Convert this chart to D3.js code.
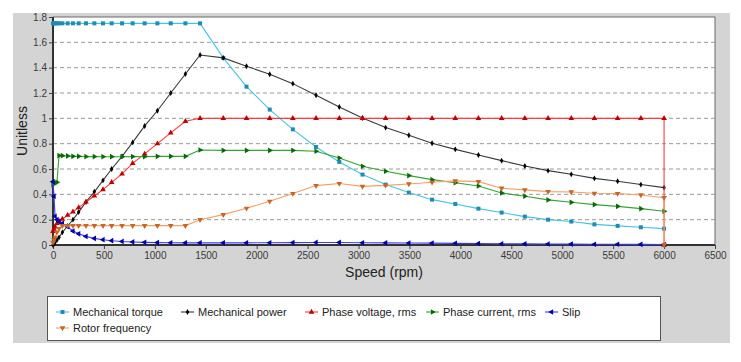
<!DOCTYPE html>
<html>
<head>
<meta charset="utf-8">
<script src="https://cdn.jsdelivr.net/npm/d3@7"></script>
<style>
  body { margin: 0; background: #fff; }
  #chart { width: 741px; height: 362px; }
  text { font-family: "Liberation Sans", Arial, sans-serif; }
</style>
</head>
<body>
<div id="chart"></div>
<script>
// speed points (rpm), shared by all series
const speed = [0, 10, 20, 39, 59, 92, 144, 196, 252, 324, 406, 491, 576, 678, 782, 900, 1025, 1156, 1300, 1444,
               1672, 1900, 2128, 2355, 2583, 2811, 3039, 3266, 3494, 3722, 3950, 4177, 4405, 4633, 4861, 5089, 5316, 5544, 5772, 6000, 6000];

const torque = [1.75, 1.75, 1.75, 1.75, 1.75, 1.75, 1.75, 1.75, 1.75, 1.75, 1.75, 1.75, 1.75, 1.75, 1.75, 1.75, 1.75, 1.75, 1.75, 1.75,
                1.477, 1.25, 1.069, 0.913, 0.774, 0.656, 0.556, 0.477, 0.414, 0.358, 0.324, 0.287, 0.256, 0.224, 0.200, 0.185, 0.163, 0.151, 0.140, 0.129];
const power = [0, 0.01, 0.02, 0.04, 0.06, 0.10, 0.15, 0.20, 0.26, 0.34, 0.42, 0.51, 0.60, 0.70, 0.81, 0.94, 1.06, 1.20, 1.35, 1.50,
               1.477, 1.411, 1.348, 1.274, 1.182, 1.09, 1.003, 0.927, 0.866, 0.803, 0.755, 0.711, 0.666, 0.624, 0.587, 0.558, 0.526, 0.503, 0.477, 0.453];
const voltage = [0.108, 0.125, 0.143, 0.17, 0.19, 0.205, 0.235, 0.262, 0.295, 0.34, 0.387, 0.437, 0.495, 0.561, 0.645, 0.719, 0.80, 0.885, 0.977, 1.0,
                 1, 1, 1, 1, 1, 1, 1, 1, 1, 1, 1, 1, 1, 1, 1, 1, 1, 1, 1, 1, 0];
const current = [0.477, 0.485, 0.49, 0.495, 0.706, 0.705, 0.703, 0.70, 0.70, 0.698, 0.698, 0.697, 0.697, 0.697, 0.698, 0.698, 0.70, 0.70, 0.70, 0.75,
                 0.747, 0.747, 0.747, 0.747, 0.74, 0.687, 0.621, 0.582, 0.548, 0.516, 0.492, 0.466, 0.411, 0.385, 0.356, 0.337, 0.319, 0.305, 0.287, 0.266];
const slip = [0.5, 0.385, 0.227, 0.2, 0.185, 0.17, 0.145, 0.11, 0.088, 0.068, 0.052, 0.042, 0.034, 0.028, 0.024, 0.021, 0.019, 0.018, 0.017, 0.017,
              0.017, 0.017, 0.018, 0.019, 0.02, 0.02, 0.018, 0.017, 0.016, 0.015, 0.013, 0.012, 0.01, 0.009, 0.008, 0.007, 0.006, 0.006, 0.005, 0.004];
const rotorFreq = [0.02, 0.04, 0.06, 0.1, 0.13, 0.153, 0.153, 0.153, 0.153, 0.153, 0.153, 0.153, 0.153, 0.153, 0.153, 0.153, 0.153, 0.153, 0.153, 0.2,
                   0.24, 0.29, 0.345, 0.406, 0.469, 0.485, 0.463, 0.471, 0.482, 0.495, 0.506, 0.50, 0.448, 0.435, 0.421, 0.419, 0.408, 0.406, 0.395, 0.374, 0];

const xTicks = [0, 500, 1000, 1500, 2000, 2500, 3000, 3500, 4000, 4500, 5000, 5500, 6000, 6500];
const yTicks = [0, 0.2, 0.4, 0.6, 0.8, 1, 1.2, 1.4, 1.6, 1.8];

const series = [
  {name: 'Mechanical torque',   values: torque,    line: '#45c3e3', fill: '#1e8cb4', symbol: d3.symbolSquare,   size: 16, rot: 0},
  {name: 'Mechanical power',    values: power,     line: '#3a3a3a', fill: '#000000', symbol: d3.symbolDiamond,  size: 10, rot: 0},
  {name: 'Phase voltage, rms',  values: voltage,   line: '#ff3b3b', fill: '#c00000', symbol: d3.symbolTriangle, size: 14, rot: 0},
  {name: 'Phase current, rms',  values: current,   line: '#35a535', fill: '#0a6a0a', symbol: d3.symbolTriangle, size: 14, rot: 90},
  {name: 'Slip',                values: slip,      line: '#3a3aff', fill: '#0000a8', symbol: d3.symbolTriangle, size: 14, rot: -90},
  {name: 'Rotor frequency',     values: rotorFreq, line: '#f4a062', fill: '#c8662a', symbol: d3.symbolTriangle, size: 14, rot: 180}
];

const width_svg = 741, height_svg = 362;
const margin = {top: 17, right: 26, bottom: 117, left: 53};

const svg = d3.select('#chart').append('svg')
  .attr('width', width_svg)
  .attr('height', height_svg);

// gray panel
svg.append('rect')
  .attr('x', 13).attr('y', 13)
  .attr('width', 717).attr('height', 330)
  .attr('fill', '#d4d4d4');

const xScale = d3.scaleLinear()
  .domain([0, 6500])
  .range([margin.left, width_svg - margin.right]);
const yScale = d3.scaleLinear()
  .domain([0, 1.8])
  .range([height_svg - margin.bottom, margin.top]);

const x0 = xScale(0), x1 = xScale(6500), y0 = yScale(0), y1 = yScale(1.8);

svg.append('rect')
  .attr('x', x0).attr('y', y1)
  .attr('width', x1 - x0).attr('height', y0 - y1)
  .attr('fill', '#fff')
  .attr('stroke', '#6a6a6a');

// dashed grid
svg.append('g')
  .selectAll('line')
  .data(yTicks.filter(d => d > 0 && d < 1.8))
  .enter().append('line')
    .attr('x1', x0).attr('x2', x1)
    .attr('y1', d => yScale(d)).attr('y2', d => yScale(d))
    .attr('stroke', '#999')
    .attr('stroke-dasharray', '4,3');

let xAxis = g => g.attr('transform', `translate(0, ${y0})`)
                  .call(d3.axisBottom(xScale).tickValues(xTicks).tickSize(4).tickPadding(3).tickFormat(d3.format('d')))
                  .call(g => g.select('.domain').remove())
                  .call(g => g.selectAll('.tick line').attr('stroke', '#444'))
                  .call(g => g.selectAll('.tick text').attr('fill', '#3a3a3a').attr('font-size', 10));
let yAxis = g => g.attr('transform', `translate(${x0}, 0)`)
                  .call(d3.axisLeft(yScale).tickValues(yTicks).tickSize(4).tickPadding(2).tickFormat(d => d3.format('~g')(d)))
                  .call(g => g.select('.domain').remove())
                  .call(g => g.selectAll('.tick line').attr('stroke', '#444'))
                  .call(g => g.selectAll('.tick text').attr('fill', '#3a3a3a').attr('font-size', 10));

svg.append('g').call(xAxis);
svg.append('g').call(yAxis);

// thick left / bottom axis lines
svg.append('line').attr('x1', x0).attr('x2', x0).attr('y1', y1).attr('y2', y0 + 1)
  .attr('stroke', '#333').attr('stroke-width', 2);
svg.append('line').attr('x1', x0 - 1).attr('x2', x1).attr('y1', y0).attr('y2', y0)
  .attr('stroke', '#333').attr('stroke-width', 2);

svg.append('text')
  .attr('x', (x0 + x1) / 2).attr('y', 277)
  .attr('text-anchor', 'middle')
  .attr('font-size', 14).attr('fill', '#222')
  .text('Speed (rpm)');
svg.append('text')
  .attr('transform', `translate(27, ${(y0 + y1) / 2}) rotate(-90)`)
  .attr('text-anchor', 'middle')
  .attr('font-size', 14).attr('fill', '#222')
  .text('Unitless');

// series
let line = d3.line()
  .x((d, i) => xScale(speed[i]))
  .y(d => yScale(d));

let plot = svg.append('g');
series.forEach(s => {
  plot.append('path')
    .attr('d', line(s.values))
    .attr('fill', 'none')
    .attr('stroke', s.line)
    .attr('stroke-width', 1.1);
  plot.append('g')
    .selectAll('path')
    .data(s.values)
    .enter().append('path')
      .attr('transform', (d, i) => `translate(${xScale(speed[i])}, ${yScale(d)}) rotate(${s.rot})`)
      .attr('d', d3.symbol().type(s.symbol).size(s.size))
      .attr('fill', s.fill);
});

// legend
const legend = svg.append('g');
legend.append('rect')
  .attr('x', 47.5).attr('y', 296.5)
  .attr('width', 613).attr('height', 44)
  .attr('fill', '#fff')
  .attr('stroke', '#555');
const legendPos = [[56, 312], [181, 312], [305, 312], [426, 312], [545, 312], [56, 328]];
series.forEach((s, i) => {
  let [lx, ly] = legendPos[i];
  let g = legend.append('g').attr('transform', `translate(${lx}, ${ly})`);
  g.append('line').attr('x1', 0).attr('x2', 13).attr('y1', 0).attr('y2', 0)
    .attr('stroke', s.line).attr('stroke-width', 1.1);
  g.append('path')
    .attr('transform', `translate(6.5, 0) rotate(${s.rot})`)
    .attr('d', d3.symbol().type(s.symbol).size(s.size))
    .attr('fill', s.fill);
  g.append('text')
    .attr('x', 17).attr('y', 4)
    .attr('font-size', 11).attr('fill', '#222')
    .text(s.name);
});
</script>
</body>
</html>
